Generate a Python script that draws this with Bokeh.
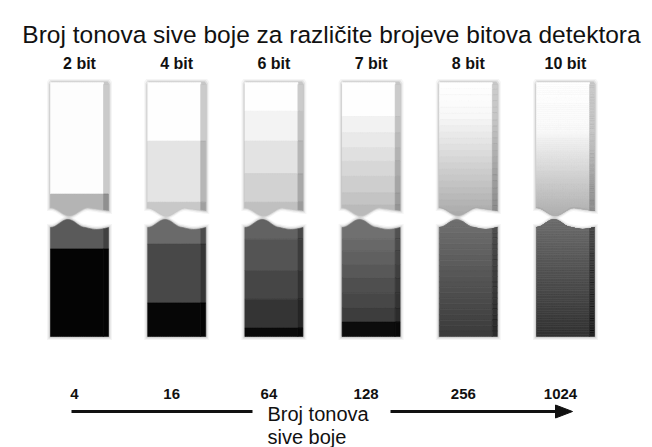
import numpy as np
from bokeh.plotting import figure
from bokeh.models import Range1d
from bokeh.core.properties import value
from bokeh.embed import file_html
from bokeh.resources import INLINE

# ---------------- data ----------------
title = "Broj tonova sive boje za različite brojeve bitova detektora"
bit_labels = ["2 bit", "4 bit", "6 bit", "7 bit", "8 bit", "10 bit"]
tone_counts = ["4", "16", "64", "128", "256", "1024"]
axis_label = ["Broj tonova", "sive boje"]

# grey levels (0-255) of the visible bands, light part (top->bottom) and dark part (top->bottom)
upper_greys = [
    [253, 180],
    [254, 228, 200],
    [254, 243, 227, 210, 192],
    [254, 242, 233, 224, 215, 206, 196, 186],
    None,  # smooth-ish gradient
    None,
]
lower_greys = [
    [90, 4],
    [106, 72, 6],
    [98, 84, 70, 52, 10],
    [112, 104, 96, 88, 79, 71, 61, 12],
    None,
    None,
]
# gradient stops (fraction of piece, grey) for 8 and 10 bit
grad_upper = {4: ([0.0, 0.25, 1.0], [255, 248, 168]), 5: ([0.0, 0.35, 1.0], [255, 250, 172])}
grad_lower = {4: ([0.0, 1.0], [113, 58]), 5: ([0.0, 1.0], [110, 50])}
grad_steps = {4: 22, 5: 70}

# ---------------- layout (styling) ----------------
upper_edges = [
    [0.0, 0.82, 1.0],
    [0.0, 0.43, 0.88, 1.0],
    [0.0, 0.21, 0.43, 0.67, 0.88, 1.0],
    [0.0, 0.25, 0.37, 0.48, 0.58, 0.69, 0.81, 0.90, 1.0],
]
lower_edges = [
    [0.0, 0.27, 1.0],
    [0.0, 0.23, 0.72, 1.0],
    [0.0, 0.19, 0.45, 0.69, 0.93, 1.0],
    [0.0, 0.19, 0.29, 0.40, 0.51, 0.64, 0.76, 0.88, 1.0],
]
UP_TOP, UP_BOT = 82, 218
LO_TOP, LO_BOT = 216, 336
COL0, STEP, FACE_W, STRIP_W = 50, 97.2, 53, 5

W, H = 652, 447
p = figure(width=W, height=H, x_range=Range1d(0, W), y_range=Range1d(H, 0),
           output_backend="svg", toolbar_location=None, min_border=0)
p.axis.visible = False
p.grid.visible = False
p.outline_line_color = None
p.background_fill_color = "white"
p.border_fill_color = "white"


def ub(t):
    t = np.asarray(t, dtype=float)
    return np.where(t < 0.65, 207 + 4 * (1 - np.cos(2 * np.pi * t / 0.65)), 207 + 3 * (t - 0.65) / 0.35)


def lt(t):
    t = np.asarray(t, dtype=float)
    return np.where(t < 0.6, 227 - 4 * (1 - np.cos(2 * np.pi * t / 0.6)),
                    227 + 2 * np.sin(np.pi * (t - 0.6) / 0.4))


def hexg(g):
    g = int(max(0, min(255, round(g))))
    return "#%02x%02x%02x" % (g, g, g)


def band_poly(L, R, x0, x1, y0, y1, upper):
    xs = np.linspace(x0, x1, 30)
    t = (xs - L) / (R - L)
    if upper:
        bot = np.minimum(y1, ub(t))
        top = np.minimum(y0, bot)
    else:
        top = np.maximum(y0, lt(t))
        bot = np.maximum(y1, top)
    return list(xs) + list(xs[::-1]), list(top) + list(bot[::-1])


def piece_outline(L, R, upper, d):
    xs = np.linspace(L, R, 40)
    t = (xs - L) / (R - L)
    if upper:
        bot = ub(t)[::-1] + d
        px = [L - d + 2, R + d - 2, R + d] + list(xs[::-1]) + [L - d]
        py = [UP_TOP - d, UP_TOP - d, UP_TOP - d + 3] + list(bot) + [UP_TOP - d + 3]
        px[3] = R + d
        px[-2] = L - d
    else:
        top = lt(t) - d
        px = list(xs) + [R + d, L - d]
        px[0] = L - d
        px[-3] = R + d
        py = list(top) + [LO_BOT + d, LO_BOT + d]
    return px, py


sx, sy, sc, sa = [], [], [], []
bx, by, bc = [], [], []
for i in range(6):
    L = COL0 + i * STEP
    R = L + FACE_W + STRIP_W
    # shadows
    for upper in (True, False):
        for d, a in ((3.5, 0.08), (2.2, 0.15), (1.1, 0.26)):
            px, py = piece_outline(L, R, upper, d)
            sx.append(px); sy.append(py); sc.append("#7a7a7a"); sa.append(a)
    # bands
    for upper in (True, False):
        top_y, bot_y = (UP_TOP, UP_BOT) if upper else (LO_TOP, LO_BOT)
        if i < 4:
            edges = upper_edges[i] if upper else lower_edges[i]
            greys = upper_greys[i] if upper else lower_greys[i]
        else:
            n = grad_steps[i]
            edges = list(np.linspace(0, 1, n + 1))
            fr, gv = grad_upper[i] if upper else grad_lower[i]
            mids = [(edges[k] + edges[k + 1]) / 2 for k in range(n)]
            greys = list(np.interp(mids, fr, gv))
        for k, g in enumerate(greys):
            y0 = top_y + edges[k] * (bot_y - top_y)
            y1 = top_y + edges[k + 1] * (bot_y - top_y)
            if k == len(greys) - 1:
                y1 = bot_y + (8 if upper else 0)
            if k == 0 and not upper:
                y0 = top_y - 8
            px, py = band_poly(L, R, L, L + FACE_W, y0, y1, upper)
            bx.append(px); by.append(py); bc.append(hexg(g))
            px, py = band_poly(L, R, L + FACE_W, R, y0 + (2 if (k == 0 and upper) else 0), y1, upper)
            bx.append(px); by.append(py); bc.append(hexg(g * (0.80 if upper else 0.72)))

p.patches(sx, sy, fill_color=sc, fill_alpha=sa, line_color=None)
p.patches(bx, by, fill_color=bc, line_color=bc, line_width=0.6)

centers = [COL0 + i * STEP + (FACE_W + STRIP_W) / 2 for i in range(6)]

font = value("Liberation Sans")
p.text(x=[331], y=[34], text=[title], text_align="center", text_baseline="middle",
       text_font=font, text_font_size="24.5px", text_color="#111111")
p.text(x=centers, y=[63] * 6, text=bit_labels, text_align="center", text_baseline="middle",
       text_font=font, text_font_size="16px", text_font_style="bold", text_color="#111111")
p.text(x=[c - 5 for c in centers], y=[393] * 6, text=tone_counts, text_align="center",
       text_baseline="middle", text_font=font, text_font_size="15px", text_font_style="bold",
       text_color="#111111")

# arrow
ax0 = centers[0] - 8
ax1 = centers[-1] + 7
p.segment(x0=[ax0, 390], y0=[411, 411], x1=[252, ax1 - 15], y1=[411, 411], line_width=3, line_color="#111111")
p.patch(x=[ax1 - 17, ax1, ax1 - 17], y=[404.5, 411, 417.5], fill_color="#111111", line_color="#111111")
p.text(x=[267, 267], y=[413, 436], text=axis_label, text_align="left", text_baseline="middle",
       text_font=font, text_font_size="20px", text_color="#111111")

open("out.html", "w").write(file_html(p, INLINE))
